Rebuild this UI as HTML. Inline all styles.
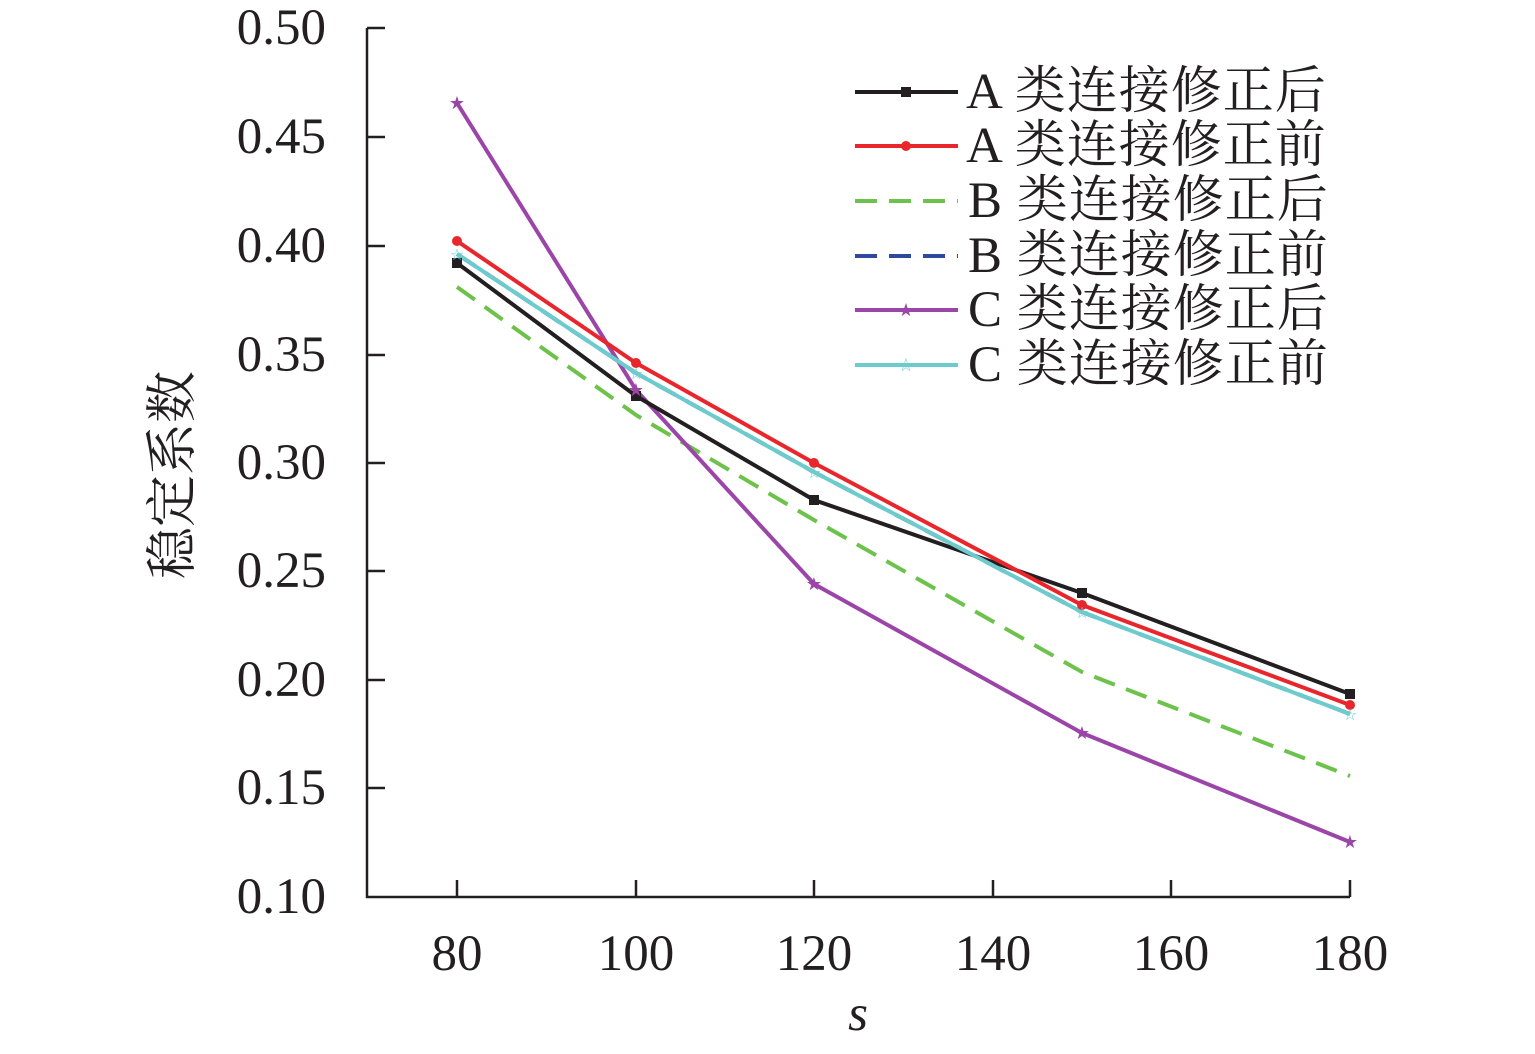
<!DOCTYPE html>
<html><head><meta charset="utf-8"><style>html,body{margin:0;padding:0;background:#fff}</style></head><body>
<svg width="1535" height="1049" xmlns="http://www.w3.org/2000/svg" font-family="'Liberation Serif','Noto Serif CJK SC',serif">
<rect width="1535" height="1049" fill="#fff"/>
<g stroke="#231f20" stroke-width="2.5" fill="none">
<path d="M367,28 V897 H1350"/>
<path d="M367,28 h18 M367,137 h18 M367,246 h18 M367,355 h18 M367,463 h18 M367,571 h18 M367,680 h18 M367,788 h18"/>
<path d="M457,897 v-17 M636,897 v-17 M814,897 v-17 M993,897 v-17 M1171,897 v-17 M1350,897 v-17"/>
</g>
<g font-size="51" fill="#231f20" text-anchor="end">
<text x="326" y="44">0.50</text><text x="326" y="153">0.45</text><text x="326" y="262">0.40</text><text x="326" y="371">0.35</text><text x="326" y="479">0.30</text><text x="326" y="587">0.25</text><text x="326" y="696">0.20</text><text x="326" y="804">0.15</text><text x="326" y="913">0.10</text>
</g>
<g font-size="51" fill="#231f20" text-anchor="middle">
<text x="457" y="970">80</text><text x="636" y="970">100</text><text x="814" y="970">120</text><text x="993" y="970">140</text><text x="1171" y="970">160</text><text x="1350" y="970">180</text>
<text x="858" y="1030" font-style="italic">s</text>
</g>
<text transform="translate(190,475) rotate(-90)" font-size="52" text-anchor="middle" fill="#231f20">稳定系数</text>
<g fill="none" stroke-width="4">
<polyline stroke="#2e4a9e" stroke-dasharray="22,12" points="457,254 636,373 814,472 1082,612 1350,714"/>
<polyline stroke="#6cc24a" stroke-dasharray="22,12" points="457,287 636,415 814,520 1082,672 1350,776"/>
<polyline stroke="#9b45a8" points="457,103 636,390 814,584 1082,733 1350,842"/>
<polyline stroke="#231f20" points="457,263 636,396 814,500 1082,593 1350,694"/>
<polyline stroke="#e8262b" points="457,241 636,363 814,463 1082,605 1350,705"/>
<polyline stroke="#6ccbcd" points="457,254 636,373 814,472 1082,612 1350,714"/>
</g>
<g fill="#231f20"><rect x="452" y="258" width="10" height="10"/><rect x="631" y="391" width="10" height="10"/><rect x="809" y="495" width="10" height="10"/><rect x="1077" y="588" width="10" height="10"/><rect x="1345" y="689" width="10" height="10"/></g>
<g fill="#e8262b"><circle cx="457" cy="241" r="5"/><circle cx="636" cy="363" r="5"/><circle cx="814" cy="463" r="5"/><circle cx="1082" cy="605" r="5"/><circle cx="1350" cy="705" r="5"/></g>
<g fill="#9b45a8" font-size="18" text-anchor="middle" font-family="'DejaVu Sans',sans-serif"><text x="457" y="109">★</text><text x="636" y="396">★</text><text x="814" y="590">★</text><text x="1082" y="739">★</text><text x="1350" y="848">★</text></g>
<g fill="#6ccbcd" font-size="16" text-anchor="middle" font-family="'DejaVu Sans',sans-serif"><text x="457" y="260">☆</text><text x="636" y="379">☆</text><text x="814" y="478">☆</text><text x="1082" y="618">☆</text><text x="1350" y="720">☆</text></g>
<g stroke-width="4">
<line x1="855" y1="92" x2="958" y2="92" stroke="#231f20"/><rect x="901" y="87" width="10" height="10" fill="#231f20"/>
<line x1="855" y1="146" x2="958" y2="146" stroke="#e8262b"/><circle cx="906" cy="146" r="5" fill="#e8262b"/>
<line x1="855" y1="201" x2="958" y2="201" stroke="#6cc24a" stroke-dasharray="22,12"/>
<line x1="855" y1="256" x2="958" y2="256" stroke="#2e4a9e" stroke-dasharray="22,12"/>
<line x1="855" y1="310" x2="958" y2="310" stroke="#9b45a8"/>
<line x1="855" y1="365" x2="958" y2="365" stroke="#6ccbcd"/>
</g>
<g font-size="18" text-anchor="middle" font-family="'DejaVu Sans',sans-serif"><text x="906" y="316" fill="#9b45a8">★</text><text x="906" y="371" fill="#6ccbcd">☆</text></g>
<g font-size="51" fill="#231f20" letter-spacing="1">
<text x="966" y="108">A 类连接修正后</text><text x="966" y="162">A 类连接修正前</text><text x="968" y="217">B 类连接修正后</text><text x="968" y="272">B 类连接修正前</text><text x="968" y="326">C 类连接修正后</text><text x="968" y="381">C 类连接修正前</text>
</g>
</svg>
</body></html>
